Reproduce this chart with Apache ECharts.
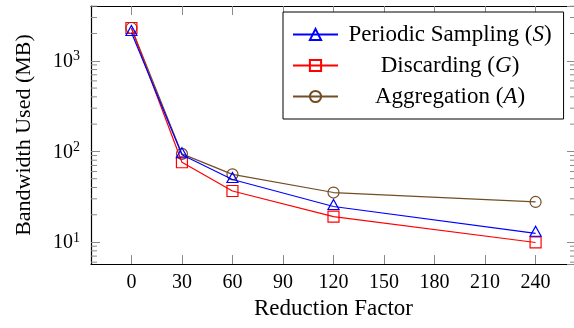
<!DOCTYPE html>
<html>
<head>
<meta charset="utf-8">
<script src="https://cdn.jsdelivr.net/npm/echarts@6/dist/echarts.min.js"></script>
<style>
  html, body { margin: 0; padding: 0; background: #fff; }
  #main { width: 574px; height: 328px; }
</style>
</head>
<body>
<div id="main"></div>
<script>
// data
const reductionFactors = [0, 30, 60, 120, 240];
const periodicSampling = [2050, 92, 49, 24.7, 12.5];
const discarding = [2300, 76, 36.6, 19.1, 9.9];
const aggregation = [2300, 94, 55.9, 35.2, 27.7];
const xTickLabels = [0, 30, 60, 90, 120, 150, 180, 210, 240];
const yMinorTicks = [6, 7, 8, 9, 20, 30, 40, 50, 60, 70, 80, 90,
    200, 300, 400, 500, 600, 700, 800, 900, 2000, 3000, 4000];

const X_MIN = -24, X_MAX = 264;
const Y_MIN = 5.73, Y_MAX = 4020;
const FONT = '"Liberation Serif", "DejaVu Serif", serif';

const chart = echarts.init(document.getElementById('main'));

function makePair(x, y) {
    return x.map((v, i) => [v, y[i]]);
}

const tickStyle = {show: true, inside: true, length: 9, lineStyle: {color: '#8a8a8a', width: 1}};

const xAxisBase = {
    type: 'value', min: X_MIN, max: X_MAX,
    splitLine: {show: false},
    axisLine: {show: true, onZero: false, lineStyle: {color: '#000', width: 1.2}},
};
const yAxisBase = {
    type: 'log', logBase: 10, min: Y_MIN, max: Y_MAX,
    splitLine: {show: false},
    axisLine: {show: true, onZero: false, lineStyle: {color: '#000', width: 1.2}},
    axisTick: tickStyle,
};

const option = {
    animation: false,
    backgroundColor: '#fff',
    grid: {left: 91, right: -2, top: 6, bottom: 64, outerBoundsMode: 'none', containLabel: false},
    legend: {
        orient: 'vertical',
        left: 283, top: 12,
        padding: [11, 12, 11, 9],
        itemGap: 8,
        itemWidth: 45, itemHeight: 14,
        backgroundColor: '#fff',
        borderColor: '#000', borderWidth: 1, borderRadius: 0,
        data: ['Periodic Sampling (S)', 'Discarding (G)', 'Aggregation (A)'],
        formatter: function (name) {
            const m = name.match(/^(.*\()(.)(\))$/);
            return '{n|' + m[1] + '}{i|' + m[2] + '}{n|' + m[3] + '}';
        },
        textStyle: {
            width: 214,
            fontFamily: FONT, fontSize: 23, color: '#000',
            rich: {
                n: {align: 'center', fontFamily: FONT, fontSize: 23, lineHeight: 24, color: '#000'},
                i: {align: 'center', fontFamily: FONT, fontSize: 23, lineHeight: 24, fontStyle: 'italic', color: '#000'}
            }
        }
    },
    xAxis: [
        Object.assign({}, xAxisBase, {
            position: 'bottom',
            name: 'Reduction Factor',
            nameLocation: 'middle',
            nameGap: 24,
            nameTextStyle: {fontFamily: FONT, fontSize: 23, color: '#000'},
            axisTick: Object.assign({}, tickStyle, {customValues: xTickLabels}),
            axisLabel: {customValues: xTickLabels, margin: 9, fontFamily: FONT, fontSize: 20, color: '#000'}
        }),
        Object.assign({}, xAxisBase, {
            position: 'top',
            axisTick: Object.assign({}, tickStyle, {customValues: xTickLabels}),
            axisLabel: {show: false}
        })
    ],
    yAxis: [
        Object.assign({}, yAxisBase, {
            position: 'left',
            name: 'Bandwidth Used (MB)',
            nameLocation: 'middle',
            nameGap: 56,
            nameTextStyle: {fontFamily: FONT, fontSize: 22, color: '#000'},
            axisLabel: {
                margin: 11,
                showMinLabel: false, showMaxLabel: false,
                formatter: function (v) {
                    return '{b|10}{s|' + Math.round(Math.log10(v)) + '}';
                },
                rich: {
                    b: {fontFamily: FONT, fontSize: 20, lineHeight: 22, verticalAlign: 'bottom', color: '#000'},
                    s: {fontFamily: FONT, fontSize: 14, lineHeight: 14, verticalAlign: 'top', color: '#000'}
                }
            }
        }),
        Object.assign({}, yAxisBase, {
            position: 'right',
            axisLabel: {show: false}
        })
    ],
    series: [
        {
            name: 'Periodic Sampling (S)',
            type: 'line',
            data: makePair(reductionFactors, periodicSampling),
            symbol: 'triangle', symbolSize: [11, 10], symbolOffset: [0, -2],
            lineStyle: {color: '#0000ff', width: 1.2},
            itemStyle: {color: 'rgba(0,0,0,0)', borderColor: '#0000ff', borderWidth: 1.2},
            z: 4
        },
        {
            name: 'Discarding (G)',
            type: 'line',
            data: makePair(reductionFactors, discarding),
            symbol: 'rect', symbolSize: 11,
            lineStyle: {color: '#ff0000', width: 1.2},
            itemStyle: {color: 'rgba(0,0,0,0)', borderColor: '#ff0000', borderWidth: 1.2},
            z: 3
        },
        {
            name: 'Aggregation (A)',
            type: 'line',
            data: makePair(reductionFactors, aggregation),
            symbol: 'circle', symbolSize: 11,
            lineStyle: {color: '#734d26', width: 1.2},
            itemStyle: {color: 'rgba(0,0,0,0)', borderColor: '#734d26', borderWidth: 1.2},
            z: 2
        },
        {
            // minor ticks of the log axis, left and right
            name: 'minorTicks',
            type: 'custom',
            silent: true,
            clip: false,
            data: yMinorTicks.map(v => [X_MIN, v]),
            renderItem: function (params, api) {
                const v = api.value(1);
                const pl = api.coord([X_MIN, v]);
                const pr = api.coord([X_MAX, v]);
                const st = {stroke: '#8a8a8a', lineWidth: 1};
                return {
                    type: 'group',
                    children: [
                        {type: 'line', shape: {x1: pl[0], y1: pl[1], x2: pl[0] + 6, y2: pl[1]}, style: st},
                        {type: 'line', shape: {x1: pr[0], y1: pr[1], x2: pr[0] - 6, y2: pr[1]}, style: st}
                    ]
                };
            },
            z: 1
        }
    ]
};

chart.setOption(option);
</script>
</body>
</html>
